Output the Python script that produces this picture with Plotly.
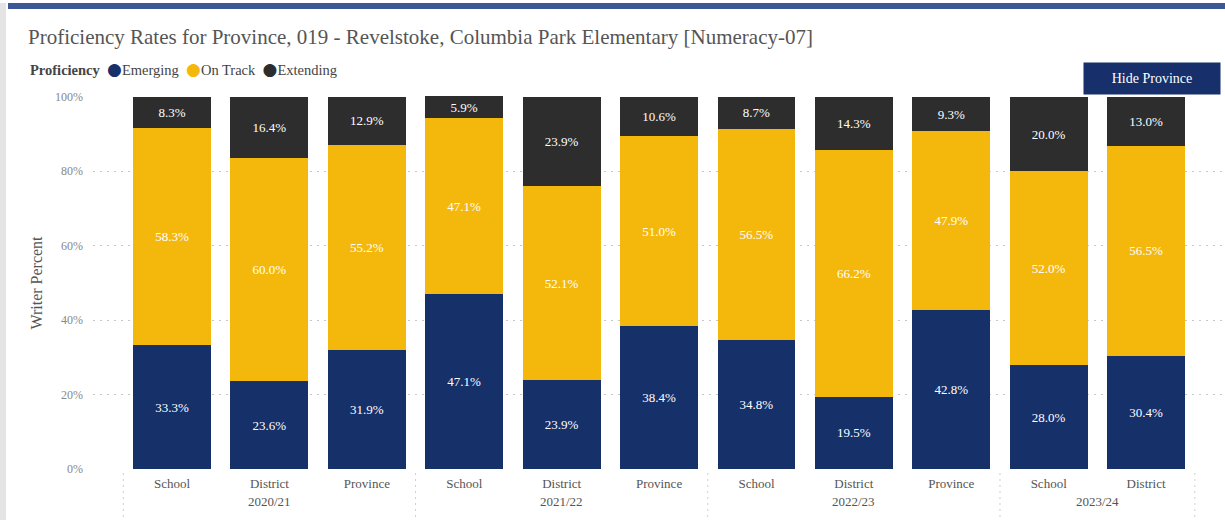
import plotly.graph_objects as go

# ---- data ----
years = ["2020/21", "2020/21", "2020/21", "2021/22", "2021/22", "2021/22",
         "2022/23", "2022/23", "2022/23", "2023/24", "2023/24"]
levels = ["School", "District", "Province", "School", "District", "Province",
          "School", "District", "Province", "School", "District"]
emerging = [33.3, 23.6, 31.9, 47.1, 23.9, 38.4, 34.8, 19.5, 42.8, 28.0, 30.4]
on_track = [58.3, 60.0, 55.2, 47.1, 52.1, 51.0, 56.5, 66.2, 47.9, 52.0, 56.5]
extending = [8.3, 16.4, 12.9, 5.9, 23.9, 10.6, 8.7, 14.3, 9.3, 20.0, 13.0]
y_ticks = [0, 20, 40, 60, 80, 100]

series_names = ["Emerging", "On Track", "Extending"]
series_values = [emerging, on_track, extending]
series_colors = ["#16306a", "#f4b80d", "#2d2d2e"]

FONT = "Liberation Serif"
GRAY = "#555555"

W, H = 1225, 520
ML, MR, MT, MB = 93, 0, 96, 50
plot_h = H - MT - MB
plot_w = W - ML - MR

x_idx = list(range(len(levels)))

fig = go.Figure()
for name, vals, col in zip(series_names, series_values, series_colors):
    fig.add_trace(go.Bar(
        x=x_idx, y=vals, name=name, marker=dict(color=col, line=dict(width=0)),
        text=[f"{v:.1f}%" for v in vals], textposition="inside",
        insidetextanchor="middle", textangle=0, constraintext="none",
        insidetextfont=dict(family=FONT, size=13, color="white"),
        hovertemplate="%{y:.1f}%<extra>" + name + "</extra>",
        showlegend=False,
    ))

# year group labels and dotted separators
groups = []
for i, yr in enumerate(years):
    if not groups or groups[-1][0] != yr:
        groups.append([yr, i, i])
    else:
        groups[-1][2] = i

shapes = []
annotations = []
px_to_py = lambda px: (H - MB - px) / plot_h
px_to_px = lambda px: (px - ML) / plot_w
for yr, a, b in groups:
    annotations.append(dict(
        x=(a + b) / 2, xref="x", y=px_to_py(501), yref="paper",
        text=yr, showarrow=False, yanchor="middle",
        font=dict(family=FONT, size=13, color=GRAY)))
bounds = [g[1] - 0.5 for g in groups] + [groups[-1][2] + 0.5]
for bx in bounds:
    shapes.append(dict(type="line", xref="x", yref="paper", x0=bx, x1=bx,
                       y0=px_to_py(473), y1=px_to_py(517),
                       line=dict(color="#cfcfcf", width=1, dash="2px,4px")))

# top blue stripe and left shadow of the card
shapes.append(dict(type="rect", xref="paper", yref="paper",
                   x0=px_to_px(8), x1=1.0, y0=px_to_py(9), y1=px_to_py(3),
                   fillcolor="#3d5995", line=dict(width=0), layer="above"))
shapes.append(dict(type="rect", xref="paper", yref="paper",
                   x0=px_to_px(0), x1=px_to_px(6), y0=px_to_py(H), y1=px_to_py(3),
                   fillcolor="#e4e4e4", line=dict(width=0), layer="below"))

# legend (drawn as text, Power BI style)
legend_txt = "<b>Proficiency</b>&nbsp;&nbsp;" + "&nbsp;&nbsp;".join(
    f"<span style='color:{c};font-family:DejaVu Sans;font-size:17px'>●</span>{n}"
    for n, c in zip(series_names, series_colors))
annotations.append(dict(
    x=px_to_px(28), xref="paper", y=px_to_py(69), yref="paper",
    xanchor="left", yanchor="middle", showarrow=False, text=legend_txt,
    font=dict(family=FONT, size=14.5, color="#444444")))

# "Hide Province" button
annotations.append(dict(
    x=px_to_px(1152), xref="paper", y=px_to_py(78.5), yref="paper",
    xanchor="center", yanchor="middle", showarrow=False, text="Hide Province",
    width=136, height=31, bgcolor="#17306b", borderpad=0,
    font=dict(family=FONT, size=14, color="white")))

fig.update_layout(
    width=W, height=H,
    margin=dict(l=ML, r=MR, t=MT, b=MB),
    barmode="stack", bargap=0.2,
    plot_bgcolor="white", paper_bgcolor="white",
    title=dict(text="Proficiency Rates for Province, 019 - Revelstoke, Columbia Park Elementary [Numeracy-07]",
               x=28 / W, xanchor="left", y=1 - 37 / H, yanchor="middle",
               font=dict(family=FONT, size=21, color=GRAY)),
    shapes=shapes, annotations=annotations,
    font=dict(family=FONT, color=GRAY),
)
fig.update_xaxes(
    range=[-0.5 - (172 - 48.7 - ML) / 97.4, 10.81],
    tickvals=x_idx, ticktext=levels, showgrid=False, zeroline=False,
    showline=False, ticks="", ticklabelstandoff=4,
    tickfont=dict(family=FONT, size=13, color=GRAY),
)
fig.update_yaxes(
    range=[-0.2, 100.2], tickvals=y_ticks, ticktext=[f"{v}%" for v in y_ticks],
    showgrid=True, gridcolor="#c8c8c8", griddash="2px,5px", gridwidth=1.2,
    zeroline=False, showline=False, ticks="", ticklabelstandoff=9,
    tickfont=dict(family=FONT, size=12, color="#888888"),
    title=dict(text="Writer Percent", standoff=8, font=dict(family=FONT, size=16, color=GRAY)),
)

fig.write_html("out.html", config={"displayModeBar": False},
               post_script="document.body.style.margin='0';")
